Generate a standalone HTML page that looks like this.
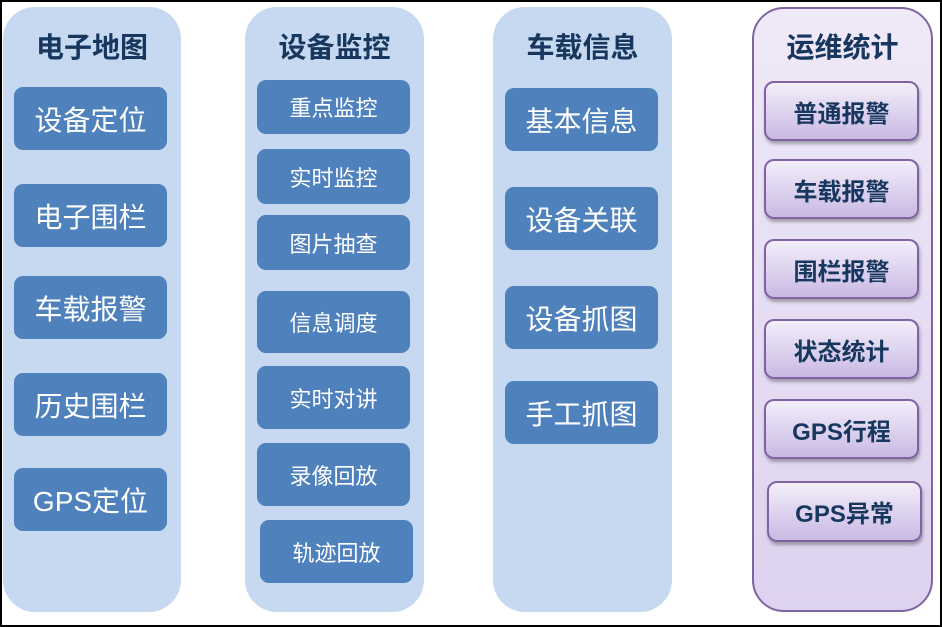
<!DOCTYPE html>
<html><head><meta charset="utf-8"><style>
body{margin:0;width:942px;height:627px;background:#fff;position:relative;overflow:hidden;font-family:"Liberation Sans","Noto Sans CJK SC",sans-serif}
.frame{position:absolute;left:0;top:0;width:938px;height:623px;border:2px solid #000}
.col{position:absolute;top:7px;height:605px;background:#c6d9f0;border-radius:32px}
.t{position:absolute;left:0;right:0;top:19px;text-align:center;font-weight:bold;font-size:28px;color:#17375e}
.b{position:absolute;background:#4f81bd;border-radius:9px;color:#fff;text-align:center;display:flex;align-items:center;justify-content:center;width:153px}
.c1 .b,.c3 .b{font-size:28px;height:63px}
.c2 .b{font-size:22px}
.c4{background:linear-gradient(#efe9f8,#ddd2ef);border:2px solid #8064a2;box-sizing:border-box}
.p{position:absolute;width:155px;height:60px;border:2px solid #8064a2;box-sizing:border-box;border-radius:10px;background:linear-gradient(#f3eefa,#c9b9e4);box-shadow:1px 3px 3px rgba(0,0,0,.3);color:#17375e;font-weight:bold;font-size:24px;display:flex;align-items:center;justify-content:center}
</style></head><body>
<div class="frame"></div>
<div class="col c1" style="left:3px;width:178px"><div class="t">电子地图</div>
<div class="b" style="left:11px;top:80px">设备定位</div>
<div class="b" style="left:11px;top:177px">电子围栏</div>
<div class="b" style="left:11px;top:269px">车载报警</div>
<div class="b" style="left:11px;top:366px">历史围栏</div>
<div class="b" style="left:11px;top:461px">GPS定位</div></div>
<div class="col c2" style="left:245px;width:179px"><div class="t">设备监控</div>
<div class="b" style="left:12px;top:73px;height:54px">重点监控</div>
<div class="b" style="left:12px;top:142px;height:55px">实时监控</div>
<div class="b" style="left:12px;top:208px;height:55px">图片抽查</div>
<div class="b" style="left:12px;top:284px;height:62px">信息调度</div>
<div class="b" style="left:12px;top:359px;height:63px">实时对讲</div>
<div class="b" style="left:12px;top:436px;height:63px">录像回放</div>
<div class="b" style="left:15px;top:513px;height:63px">轨迹回放</div></div>
<div class="col c3" style="left:493px;width:179px"><div class="t">车载信息</div>
<div class="b" style="left:12px;top:81px">基本信息</div>
<div class="b" style="left:12px;top:180px">设备关联</div>
<div class="b" style="left:12px;top:279px">设备抓图</div>
<div class="b" style="left:12px;top:374px">手工抓图</div></div>
<div class="col c4" style="left:752px;width:181px"><div class="t" style="top:17px">运维统计</div></div>
<div class="p" style="left:764px;top:81px">普通报警</div>
<div class="p" style="left:764px;top:159px">车载报警</div>
<div class="p" style="left:764px;top:239px">围栏报警</div>
<div class="p" style="left:764px;top:319px">状态统计</div>
<div class="p" style="left:764px;top:399px">GPS行程</div>
<div class="p" style="left:767px;top:481px;height:61px">GPS异常</div>
</body></html>
